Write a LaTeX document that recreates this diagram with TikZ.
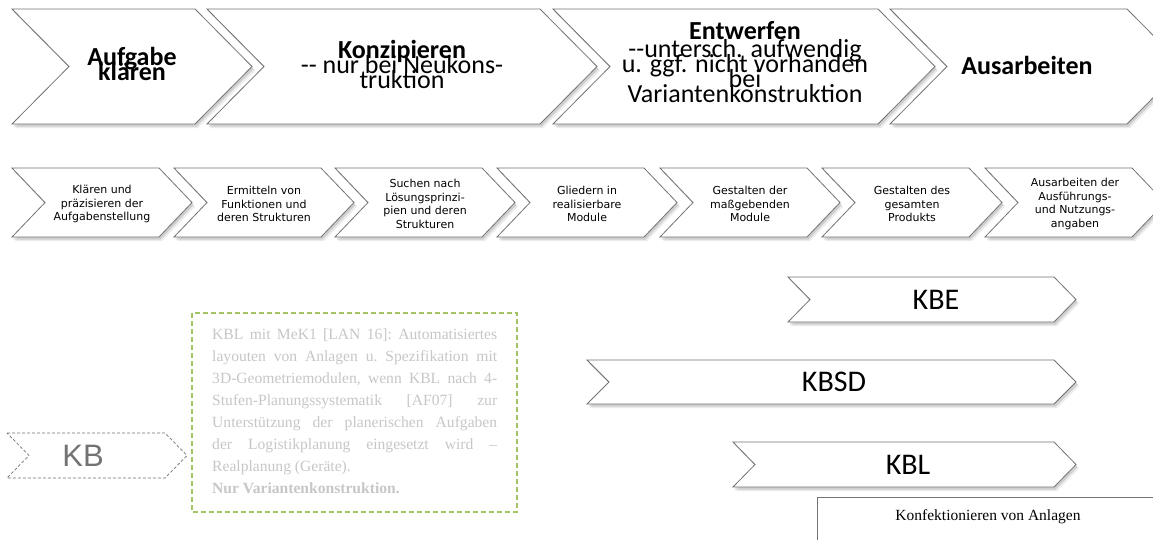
\documentclass[tikz,border=0pt]{standalone}
\usepackage{fontspec}
\setmainfont{Carlito}
\newfontfamily\tahfont{DejaVu Sans}
\newfontfamily\tnrfont{Liberation Serif}
\newfontfamily\arifont{Liberation Sans}
\definecolor{boxgreen}{HTML}{A4C463}
\newcommand\mychev[6]{%
  \path[#1] (#2,#4) -- ({#3-#6},#4) -- (#3,{(#4+#5)/2}) -- ({#3-#6},#5) -- (#2,#5) -- ({#2+#6},{(#4+#5)/2}) -- cycle;}
\tikzset{
  chevline/.style={draw=black!55, line width=0.8pt, fill=white},
  chevshadowa/.style={fill=black!40, opacity=0.35, xshift=1.5pt, yshift=-2.5pt},
  chevshadowb/.style={fill=black!30, opacity=0.25, xshift=3pt, yshift=-4pt},
  toptext/.style={align=center, inner sep=0pt, font=\fontsize{26}{15}\selectfont},
  steptext/.style={align=center, inner sep=0pt, font=\tahfont\fontsize{11}{13.6}\selectfont},
  kbtext/.style={inner sep=0pt, font=\fontsize{30}{30}\selectfont},
  notetext/.style={align=left, inner sep=0pt, anchor=north west, text=black!22, font=\tnrfont\fontsize{15.6}{22.1}\selectfont\frenchspacing},
}
\begin{document}
\lineskiplimit=-100pt\relax
\begin{tikzpicture}[x=1pt,y=-1pt]
\useasboundingbox (0,0) rectangle (1153,539);
\clip (0,0) rectangle (1153,539);
\fill[white] (0,0) rectangle (1153,539);
% ---- top row
\foreach \l/\t in {12/252,207/597,553/935,890/1184}{
  \mychev{chevshadowb}{\l}{\t}{9}{124}{57}
  \mychev{chevshadowa}{\l}{\t}{9}{124}{57}
}
\foreach \l/\t in {12/252,207/597,553/935,890/1184}{
  \mychev{chevline}{\l}{\t}{9}{124}{57}
}
% ---- second row
\foreach \l in {12,174,335,497,660,822,985}{
  \mychev{chevshadowb}{\l}{\l+180}{168}{237}{33}
  \mychev{chevshadowa}{\l}{\l+180}{168}{237}{33}
}
\foreach \l in {12,174,335,497,660,822,985}{
  \mychev{chevline}{\l}{\l+180}{168}{237}{33}
}
% ---- KB arrows
\foreach \l/\tp/\bt in {788/277/322,587/360/404,733/442/487}{
  \mychev{chevshadowb}{\l}{1076}{\tp}{\bt}{22}
  \mychev{chevshadowa}{\l}{1076}{\tp}{\bt}{22}
  \mychev{chevline}{\l}{1076}{\tp}{\bt}{22}
}
\mychev{draw=black!55, dash pattern=on 3pt off 2pt, line width=0.7pt}{7}{187}{433}{478}{22}
% ---- top row texts
\node[toptext] (t1) at (132,64) {\textbf{Aufgabe}\\\textbf{klären}};
\node[toptext] (t2) at (402,64) {\textbf{Konzipieren}\\-{}- nur bei Neukons-\\truktion};
\node[toptext] (t3) at (745,62) {\textbf{Entwerfen}\\[3pt]-{}-untersch. aufwendig\\u. ggf. nicht vorhanden\\bei\\Variantenkonstruktion};
\node[toptext] (t4) at (1027,65) {\textbf{Ausarbeiten}};
% ---- second row texts
\node[steptext] (s1) at (102,204) {Klären und\\präzisieren der\\Aufgabenstellung};
\node[steptext] (s2) at (264,204) {Ermitteln von\\Funktionen und\\deren Strukturen};
\node[steptext] (s3) at (425,204) {Suchen nach\\Lösungsprinzi-\\pien und deren\\Strukturen};
\node[steptext] (s4) at (587,204) {Gliedern in\\realisierbare\\Module};
\node[steptext] (s5) at (750,204) {Gestalten der\\maßgebenden\\Module};
\node[steptext] (s6) at (912,204) {Gestalten des\\gesamten\\Produkts};
\node[steptext] (s7) at (1075,204) {Ausarbeiten der\\Ausführungs-\\und Nutzungs-\\angaben};
% ---- KB labels
\node[kbtext] (kbe) at (936,300) {KBE};
\node[kbtext] (kbsd) at (834,382) {KBSD};
\node[kbtext] (kbl) at (908,465) {KBL};
\node[inner sep=0pt, text=black!55, font=\arifont\fontsize{31}{31}\selectfont] (kb) at (83,456) {KB};
% ---- note box
\draw[boxgreen, line width=1.2pt, dash pattern=on 5pt off 3pt] (192,313) rectangle (517,512);
\node[notetext] (note) at (212,328) {\makebox[285pt][s]{KBL mit MeK1 [LAN 16]: Automatisiertes}\\
\makebox[285pt][s]{layouten von Anlagen u. Spezifikation mit}\\
\makebox[285pt][s]{3D-Geometriemodulen, wenn KBL nach 4-}\\
\makebox[285pt][s]{Stufen-Planungssystematik [AF07] zur}\\
\makebox[285pt][s]{Unterstützung der planerischen Aufgaben}\\
\makebox[285pt][s]{der Logistikplanung eingesetzt wird –}\\
Realplanung (Geräte).\\
\textbf{Nur Variantenkonstruktion.}};
% ---- bottom right box
\draw[black!55, line width=0.8pt] (817,497) rectangle (1175,560);
\node[inner sep=0pt, font=\tnrfont\fontsize{15.5}{18}\selectfont] (konf) at (988,517) {Konfektionieren von Anlagen};
\end{tikzpicture}
\end{document}
